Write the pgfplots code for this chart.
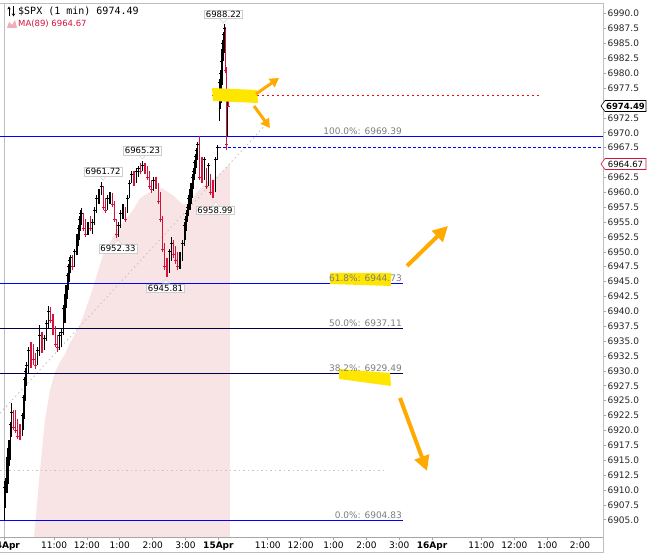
\documentclass[border=0pt]{standalone}
\usepackage{pgfplots}
\pgfplotsset{compat=1.18}
\usepackage{pgfplotstable}
\usepackage{fontspec}
\setmainfont{DejaVu Sans}
\newfontfamily\monofont{DejaVu Sans Mono}
\usetikzlibrary{arrows.meta}

\definecolor{barred}{RGB}{210,20,60}
\definecolor{mapink}{RGB}{248,228,228}
\definecolor{fibblue}{RGB}{0,0,255}
\definecolor{fibnavy}{RGB}{0,0,70}
\definecolor{dotred}{RGB}{255,0,0}
\definecolor{hlyellow}{RGB}{255,230,0}
\definecolor{arrorange}{RGB}{255,170,0}
\definecolor{framegray}{RGB}{190,190,190}
\definecolor{labgray}{RGB}{125,125,125}

% t = minutes since 14 Apr 9:30, h/l/c = high, low, close
\pgfplotstableread{
t h l c
0 6911.5 6904.83 6910.5
2 6912.0 6907.0 6911.5
4 6915.6 6909.5 6915
6 6917.0 6911.0 6916.5
8 6918.4 6914.0 6918
10 6921.5 6915.0 6921
12 6924.6 6918.9 6923
32 6923.0 6919.0 6922.5
34 6926.0 6920.0 6925.5
36 6929.0 6922.0 6928.5
38 6930.5 6925.0 6930
40 6931.5 6927.5 6931
44 6934.0 6929.7 6933.5
60 6934.0 6931.0 6933.5
64 6937.7 6932.5 6936
72 6936.0 6933.5 6935.5
76 6938.5 6935.0 6938
80 6940.9 6937.0 6940
100 6936.5 6933.5 6936
104 6937.0 6934.0 6936.5
108 6941.0 6936.0 6940.5
110 6943.0 6938.0 6942.5
112 6944.5 6940.5 6944
114 6946.5 6942.0 6946
116 6948.0 6943.6 6947.5
118 6949.0 6945.0 6948.5
120 6949.5 6946.4 6949
128 6950.5 6947.5 6950
132 6953.0 6949.5 6952.5
134 6954.5 6951.0 6954
136 6956.0 6952.0 6955.5
138 6957.0 6953.5 6956.5
140 6957.4 6954.5 6956.5
152 6955.0 6952.8 6954.5
160 6955.5 6953.0 6955
164 6957.5 6954.5 6957
168 6959.5 6956.5 6959
172 6960.5 6958.0 6960
176 6961.72 6959.5 6961
188 6959.5 6957.0 6959
192 6960.0 6958.0 6959.5
208 6955.0 6952.5 6954.5
212 6957.0 6954.0 6956.5
216 6958.0 6955.5 6957.5
224 6959.5 6956.5 6959
228 6962.0 6959.0 6961.5
232 6963.5 6961.5 6963
240 6964.0 6961.5 6963.5
244 6964.5 6962.5 6964
252 6965.23 6963.5 6964.5
272 6962.5 6960.2 6962
300 6950.5 6946.5 6950
304 6952.5 6948.5 6951.5
320 6950.0 6947.2 6949.5
324 6952.0 6948.5 6951.5
328 6955.0 6951.0 6954.5
330 6956.0 6952.0 6955.5
332 6957.0 6953.5 6956.5
334 6958.0 6955.0 6957.5
336 6959.5 6956.0 6959
338 6960.5 6957.0 6960
340 6961.5 6958.0 6961
342 6963.0 6959.0 6962.5
344 6964.0 6960.5 6963.5
346 6965.5 6962.0 6965
348 6966.5 6963.0 6966
350 6967.5 6964.0 6967
352 6968.5 6965.5 6968
364 6966.0 6962.0 6965.5
372 6965.0 6961.0 6964.5
384 6966.0 6960.0 6965.5
388 6968.0 6965.5 6967.5
392 6979.0 6972.0 6978.5
393.5 6980.5 6974.0 6980
395 6982.8 6975.0 6982
396.5 6984.0 6978.0 6983.5
398 6985.5 6980.0 6985
399.5 6987.0 6982.0 6986.5
401 6988.22 6983.4 6987.5
407 6976.3 6969.3 6976
}\upbars

\pgfplotstableread{
t h l c
16 6923.5 6920.0 6920.5
20 6923.4 6919.5 6920
24 6922.0 6918.6 6919
28 6921.0 6918.4 6919
48 6934.8 6930.5 6931.5
52 6934.5 6931.0 6932
56 6933.0 6930.3 6931
68 6936.5 6933.0 6934
84 6940.8 6938.0 6938.5
88 6939.5 6936.0 6936.5
92 6937.5 6934.0 6934.5
96 6936.0 6933.2 6934
124 6949.5 6947.0 6947.5
144 6956.5 6953.5 6954
148 6955.5 6952.5 6953
156 6956.0 6953.5 6954
180 6961.0 6957.0 6957.5
184 6959.0 6956.5 6957
196 6959.8 6957.5 6958
200 6958.5 6955.0 6955.5
204 6955.5 6952.33 6953
220 6957.5 6955.0 6955.5
236 6963.5 6961.0 6961.5
248 6965.0 6963.0 6963.5
256 6965.0 6963.0 6963.5
260 6964.5 6962.0 6962.5
264 6963.5 6960.5 6961
268 6962.0 6959.8 6960.5
276 6962.5 6960.5 6961
280 6961.5 6958.0 6958.5
284 6960.0 6955.0 6955.5
288 6956.0 6950.0 6950.5
292 6951.5 6947.0 6947.5
296 6949.0 6945.81 6946.5
308 6952.0 6949.0 6949.5
312 6951.0 6948.0 6948.5
316 6950.0 6947.0 6947.5
356 6969.39 6962.0 6962.5
360 6966.0 6961.5 6962
368 6964.0 6960.5 6961
376 6963.0 6959.5 6960
380 6962.0 6958.99 6959.5
403 6987.8 6980.0 6980.5
405 6981.0 6967.1 6968
409 6976.2 6974.4 6974.49
}\downbars

% MA(89), closed down to below the axis for the shaded area
\pgfplotstableread{
t v
46.2 6895
46.2 6898.2
53.5 6902.1
64.4 6913.3
73.5 6921.8
82.7 6926.8
91.8 6929.8
100.9 6931.5
110 6932.8
119.2 6934.7
137.4 6937.7
155.7 6942.4
179.4 6949.5
205 6953.7
234.1 6957.0
246.9 6959.0
265.1 6960.1
287 6960.7
307.1 6959.5
325.4 6957.9
338.2 6958.2
351 6960.1
369.2 6961.7
387.4 6962.6
405.7 6964.3
411.1 6964.9
411.1 6895
}\maline

\begin{document}
\begin{tikzpicture}
\useasboundingbox (0pt,0pt) rectangle (655pt,553pt);
\begin{axis}[
  at={(0pt,16pt)}, anchor=south west,
  scale only axis, width=603pt, height=534pt,
  xmin=-8.6, xmax=1091.8, ymin=6902.1, ymax=6991.8,
  axis x line*=bottom, axis y line*=right,
  x axis line style={draw=gray!70, line width=0.7pt},
  y axis line style={draw=framegray, line width=0.7pt},
  tick align=outside, major tick length=3pt,
  tick style={draw=gray!70, line width=0.6pt},
  xtick={0,90,150,210,270,330,390,480,540,600,660,720,780,870,930,990,1050},
  xticklabels={\textbf{14Apr},11:00,12:00,1:00,2:00,3:00,\textbf{15Apr},11:00,12:00,1:00,2:00,3:00,\textbf{16Apr},11:00,12:00,1:00,2:00},
  xticklabel style={font=\fontsize{9}{10}\selectfont, text=black, yshift=2pt},
  ytick={6905,6907.5,6910,6912.5,6915,6917.5,6920,6922.5,6925,6927.5,6930,6932.5,6935,6937.5,6940,6942.5,6945,6947.5,6950,6952.5,6955,6957.5,6960,6962.5,6967.5,6970,6972.5,6977.5,6980,6982.5,6985,6987.5,6990},
  extra y ticks={6965,6975}, extra y tick labels={},
  yticklabel style={font=\fontsize{9}{10}\selectfont, text=black!85, xshift=-2pt,
    /pgf/number format/fixed, /pgf/number format/fixed zerofill,
    /pgf/number format/precision=1, /pgf/number format/1000 sep={},
    /pgf/number format/assume math mode=true},
]
% MA(89) shaded area
\addplot[fill=mapink, draw=none] table[x=t, y=v] {\maline};

% separator and reference lines
\addplot[color=framegray, line width=0.6pt] coordinates {(0,6902.1) (0,6991.8)};
\addplot[color=gray!45, line width=0.9pt, dash pattern=on 1.5pt off 3pt] coordinates {(-8.6,6913.2) (694,6913.2)};
\addplot[color=gray!45, line width=0.9pt, dash pattern=on 1.5pt off 3pt] coordinates {(-8.6,6922.9) (478.6,6971.6)};

% Fibonacci levels
\addplot[color=fibnavy, line width=1pt] coordinates {(-8.6,6937.11) (726.8,6937.11)};
\addplot[color=fibnavy, line width=1pt] coordinates {(-8.6,6929.49) (726.8,6929.49)};
\addplot[color=fibblue, line width=1pt] coordinates {(-8.6,6969.39) (1091.8,6969.39)};
\addplot[color=fibblue, line width=1pt] coordinates {(-8.6,6944.73) (726.8,6944.73)};
\addplot[color=fibblue, line width=1pt] coordinates {(-8.6,6904.83) (726.8,6904.83)};

% last price / MA markers
\addplot[color=dotred, line width=1pt, dash pattern=on 2pt off 3pt] coordinates {(378.3,6976.2) (976.8,6976.2)};
\addplot[color=fibblue, line width=1pt, dash pattern=on 3pt off 2pt] coordinates {(389,6967.5) (1091.8,6967.5)};

% OHLC bars
\addplot[only marks, black, mark=-, mark size=1.4pt, mark options={line width=0.7pt},
  error bars/.cd, y dir=both, y explicit, error mark=none,
  error bar style={line width=1.2pt, black}]
  table[x=t, y=c, y error plus expr={\thisrow{h}-\thisrow{c}},
        y error minus expr={\thisrow{c}-\thisrow{l}}] {\upbars};
\addplot[only marks, barred, mark=-, mark size=1.4pt, mark options={line width=0.7pt},
  error bars/.cd, y dir=both, y explicit, error mark=none,
  error bar style={line width=1.2pt, barred}]
  table[x=t, y=c, y error plus expr={\thisrow{h}-\thisrow{c}},
        y error minus expr={\thisrow{c}-\thisrow{l}}] {\downbars};
\end{axis}

% annotations, in pixel coordinates of the picture (y downwards)
\begin{scope}[x=1pt, y=-1pt, shift={(0pt,553pt)}]
  % frame lines
  \draw[framegray, line width=0.7pt] (0,3) -- (603,3);
  \draw[framegray, line width=0.7pt] (603,537) -- (603,553);
  \draw[gray!50, line width=0.7pt] (0,552) -- (603,552);

  % title
  \draw[line width=0.6pt, -{Stealth[length=3pt,width=3.4pt]}] (9,16.5) -- (9,6.5);
  \draw[line width=0.6pt, -{Stealth[length=3pt,width=3.4pt]}] (13.5,6.5) -- (13.5,16.5);
  \node[anchor=west, inner sep=0pt, font=\monofont\fontsize{10}{11}\selectfont] at (18,11.5) {\$SPX (1 min) 6974.49};
  \fill[barred!35] (7,28) -- (9,22) -- (12,25) -- (15,20) -- (17,28) -- cycle;
  \node[anchor=west, inner sep=0pt, text=barred, font=\fontsize{8.5}{10}\selectfont] at (18,24) {MA(89) 6964.67};

  % highlighter marks
  \fill[hlyellow] (212,88) -- (257,90) -- (258,103) -- (213,101) -- cycle;
  \fill[hlyellow] (330,273) -- (391,273) -- (391,286) -- (330,284) -- cycle;
  \fill[hlyellow] (339,369) -- (390,373) -- (391,386) -- (339,379) -- cycle;

  % Fibonacci labels
  \begin{scope}[every node/.style={anchor=south east, inner sep=0pt, text=labgray, font=\fontsize{9}{10}\selectfont}]
    \node at (402,134.5) {100.0\%: 6969.39};
    \node at (402,281.5) {61.8\%: 6944.73};
    \node at (402,327) {50.0\%: 6937.11};
    \node at (402,372) {38.2\%: 6929.49};
    \node at (402,519) {0.0\%: 6904.83};
  \end{scope}

  % peak / trough labels
  \begin{scope}[every node/.style={draw=gray!40, fill=white, inner xsep=1.5pt, inner ysep=1pt, font=\fontsize{8.5}{9}\selectfont}]
    \draw[gray!40, fill=white] (220,19) -- (223.5,23) -- (227,19);
    \node at (223.5,14) {6988.22};
    \draw[gray!40, fill=white] (139,155) -- (142.5,159) -- (146,155);
    \node at (142.5,150.5) {6965.23};
    \draw[gray!40, fill=white] (99.5,176) -- (103,180) -- (106.5,176);
    \node at (103,171.5) {6961.72};
    \draw[gray!40, fill=white] (114.5,244) -- (118,240) -- (121.5,244);
    \node at (118,248.5) {6952.33};
    \draw[gray!40, fill=white] (212.5,205.5) -- (216,201.5) -- (219.5,205.5);
    \node at (215,210) {6958.99};
    \draw[gray!40, fill=white] (162.5,283.5) -- (166,279.5) -- (169.5,283.5);
    \node at (165.5,288) {6945.81};
  \end{scope}

  % price boxes on the scale
  \draw[black, fill=white, line width=0.6pt] (601,106) -- (605,100.5) -- (646,100.5) -- (646,111.5) -- (605,111.5) -- cycle;
  \node[inner sep=0pt, font=\bfseries\fontsize{8.5}{9}\selectfont] at (625.5,106) {6974.49};
  \draw[barred, fill=white, line width=0.6pt] (601,164) -- (605,158.5) -- (646,158.5) -- (646,169.5) -- (605,169.5) -- cycle;
  \node[inner sep=0pt, font=\fontsize{8.5}{9}\selectfont] at (625.5,164) {6964.67};

  % arrows
  \begin{scope}[arrorange]
    \draw[line width=4pt, -{Triangle[length=15pt,width=15pt]}] (407,266) -- (448,226);
    \draw[line width=4pt, -{Triangle[length=15pt,width=15pt]}] (400,398) -- (427,471);
    \draw[line width=3pt, -{Triangle[length=9pt,width=10pt]}] (256,94) -- (279,78);
    \draw[line width=3pt, -{Triangle[length=9pt,width=10pt]}] (254,106) -- (270,128);
  \end{scope}
\end{scope}
\end{tikzpicture}
\end{document}
